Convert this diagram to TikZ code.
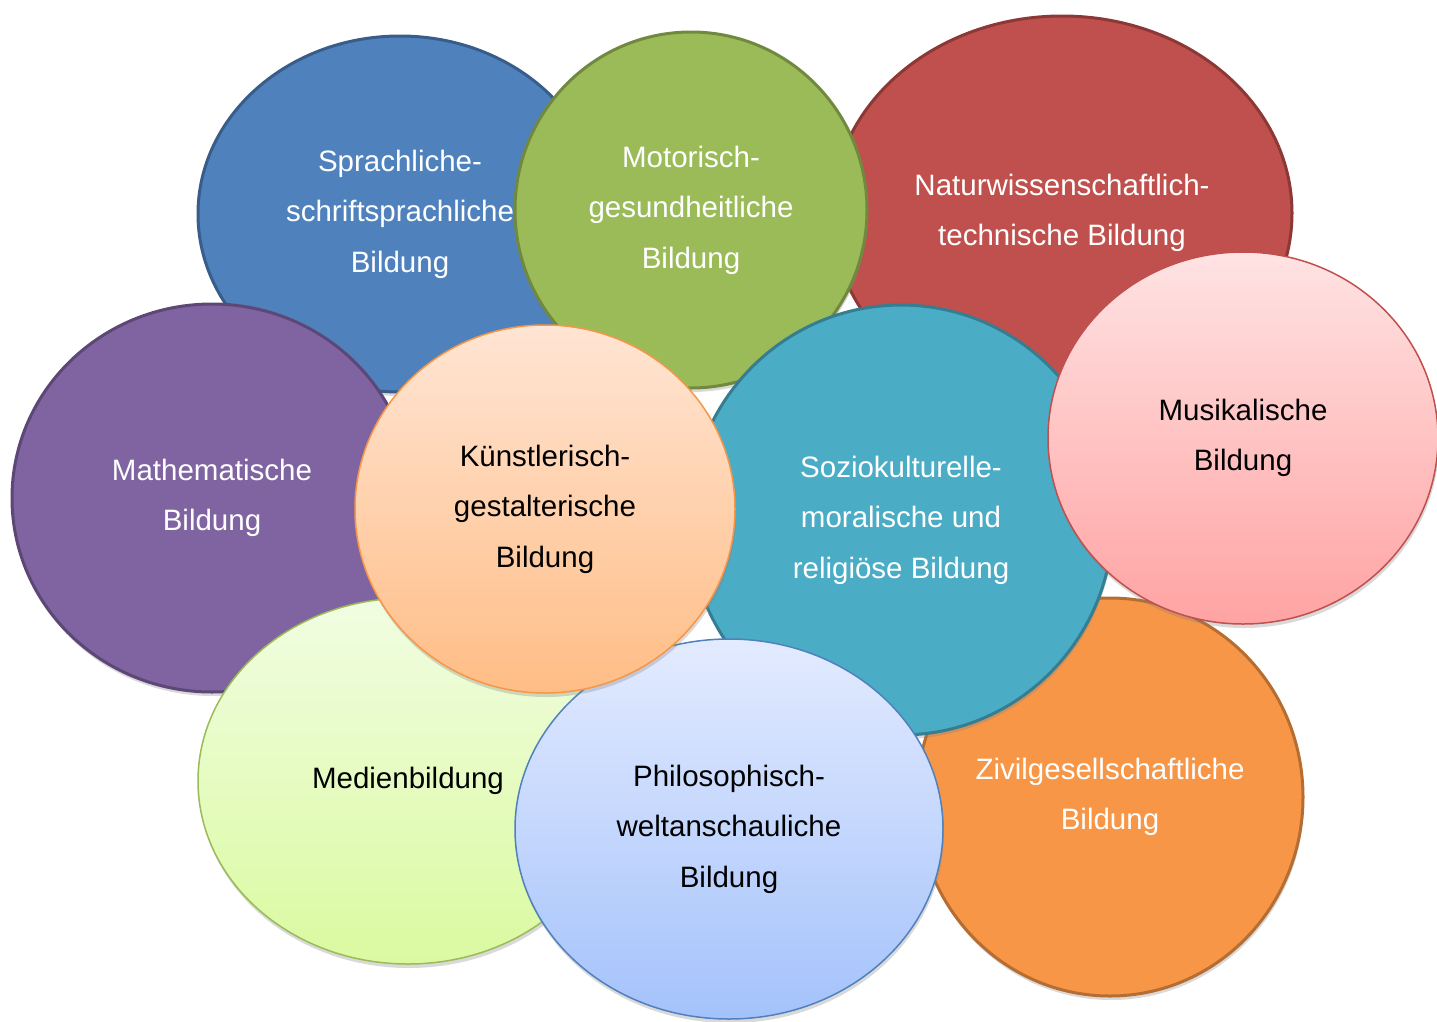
\documentclass[tikz,border=0pt]{standalone}
\usepackage{fontspec}
\setmainfont{Liberation Sans}
\usepackage{tikz}
\usetikzlibrary{shapes.geometric,shadows}

\definecolor{blauFill}{HTML}{4F81BD}
\definecolor{blauRand}{HTML}{385D8A}
\definecolor{rotFill}{HTML}{C0504D}
\definecolor{rotRand}{HTML}{8C3836}
\definecolor{gruenFill}{HTML}{9BBB59}
\definecolor{gruenRand}{HTML}{71893F}
\definecolor{lilaFill}{HTML}{8064A2}
\definecolor{lilaRand}{HTML}{5C4776}
\definecolor{tuerkisFill}{HTML}{4BACC6}
\definecolor{tuerkisRand}{HTML}{357D91}
\definecolor{orangeFill}{HTML}{F79646}
\definecolor{orangeRand}{HTML}{B66D31}

\begin{document}
\begin{tikzpicture}[x=1pt,y=-1pt]
	\tikzstyle{every node}+=[inner sep=0pt, align=center, font=\fontsize{29.5}{50.5}\selectfont]
	\tikzstyle{bubble}=[ellipse, line width=3pt, text=white, drop shadow={opacity=0.3, shadow xshift=1pt, shadow yshift=-4pt}]
	\tikzstyle{hellbubble}=[bubble, line width=1.5pt, text=black]
	\useasboundingbox (0,0) rectangle (1437,1021);
	% hintere Reihe
	\node[bubble, fill=blauFill, draw=blauRand, minimum width=404pt, minimum height=356pt] (sprache) at (400,214) {Sprachliche-\\schriftsprachliche\\Bildung};
	\node[bubble, fill=rotFill, draw=rotRand, minimum width=460pt, minimum height=394pt] (natur) at (1062,213) {Naturwissenschaftlich-\\technische Bildung};
	\node[bubble, fill=gruenFill, draw=gruenRand, minimum width=352pt, minimum height=356pt] (motorik) at (691,210) {Motorisch-\\gesundheitliche\\Bildung};
	\node[bubble, fill=lilaFill, draw=lilaRand, minimum width=400pt, minimum height=388pt] (mathe) at (212,498) {Mathematische\\Bildung};
	\node[hellbubble, top color={rgb,255:red,241;green,253;blue,226}, bottom color={rgb,255:red,218;green,250;blue,160}, draw=gruenFill, minimum width=420pt, minimum height=366pt] (medien) at (408,781) {Medienbildung};
	\node[bubble, fill=orangeFill, draw=orangeRand, minimum width=386pt, minimum height=398pt] (zivil) at (1110,797) {Zivilgesellschaftliche\\Bildung};
	\node[bubble, fill=tuerkisFill, draw=tuerkisRand, minimum width=424pt, minimum height=430pt] (sozio) at (901,520) {Soziokulturelle-\\moralische und\\religiöse Bildung};
	% vordere Reihe
	\node[hellbubble, top color={rgb,255:red,255;green,227;blue,227}, bottom color={rgb,255:red,255;green,163;blue,163}, draw=rotFill, minimum width=390pt, minimum height=372pt] (musik) at (1243,438) {Musikalische\\Bildung};
	\node[hellbubble, top color={rgb,255:red,227;green,235;blue,255}, bottom color={rgb,255:red,164;green,194;blue,251}, draw=blauFill, minimum width=428pt, minimum height=380pt] (philo) at (729,829) {Philosophisch-\\weltanschauliche\\Bildung};
	\node[hellbubble, top color={rgb,255:red,255;green,229;blue,212}, bottom color={rgb,255:red,255;green,189;blue,133}, draw=orangeFill, minimum width=380pt, minimum height=368pt] (kunst) at (545,509) {Künstlerisch-\\gestalterische\\Bildung};
\end{tikzpicture}
\end{document}
